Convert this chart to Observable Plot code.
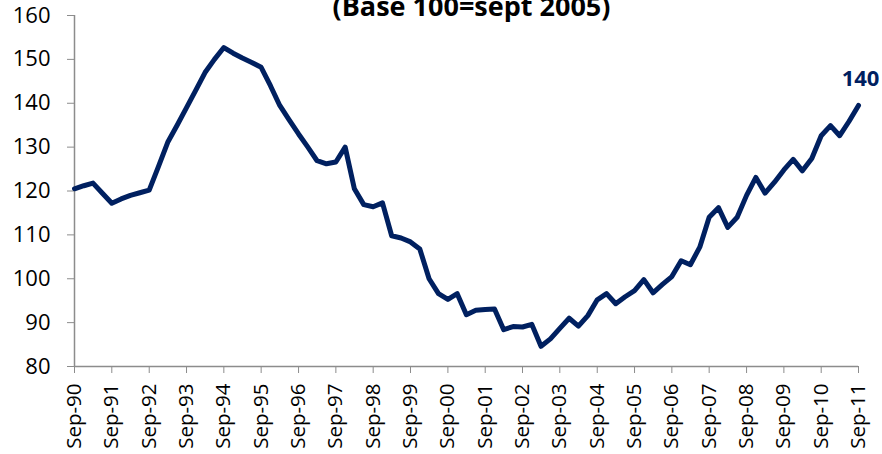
<!DOCTYPE html>
<html><head><meta charset="utf-8">
<script src="https://cdn.jsdelivr.net/npm/d3@7"></script>
<script src="https://cdn.jsdelivr.net/npm/@observablehq/plot@0.6"></script>
<style>body{margin:0;background:#fff;overflow:hidden;}</style>
</head><body><div id="chart"></div>
<script>
const title = "(Base 100=sept 2005)";
const firstYear = 1990; // series starts Sep-1990, quarterly
const values = [
  120.5, 121.2, 121.8, 119.5, 117.2, 118.2, 119.0, 119.6, 120.2, 125.6,
  131.1, 135.0, 139.0, 143.0, 147.0, 150.0, 152.7, 151.4, 150.3, 149.3,
  148.2, 144.0, 139.5, 136.2, 133.0, 130.0, 126.9, 126.2, 126.6, 130.0,
  120.5, 116.9, 116.4, 117.3, 109.8, 109.3, 108.4, 106.8, 100.0, 96.6,
  95.3, 96.6, 91.8, 92.8, 93.0, 93.1, 88.4, 89.1, 89.0, 89.6,
  84.6, 86.3, 88.7, 91.0, 89.2, 91.6, 95.2, 96.6, 94.3, 95.9,
  97.3, 99.8, 96.8, 98.7, 100.5, 104.1, 103.2, 107.2, 114.0, 116.2,
  111.7, 114.0, 119.0, 123.1, 119.5, 122.0, 124.8, 127.2, 124.6, 127.4,
  132.6, 134.9, 132.6, 135.9, 139.5
];
const tickYears = [1990,1991,1992,1993,1994,1995,1996,1997,1998,1999,2000,
                   2001,2002,2003,2004,2005,2006,2007,2008,2009,2010,2011];
const yTicks = [80, 90, 100, 110, 120, 130, 140, 150, 160];
const endLabel = "140";

const start = new Date(Date.UTC(firstYear, 8, 1));
const data = values.map((v, i) => ({date: d3.utcMonth.offset(start, 3 * i), value: v}));
const tickDates = tickYears.map(y => new Date(Date.UTC(y, 8, 1)));
const last = data[data.length - 1];
const axisGray = "#8c8c8c";
const navy = "#002060";

const chart = Plot.plot({
  width: 882, height: 454,
  marginLeft: 74, marginRight: 24, marginTop: 15, marginBottom: 88,
  style: {fontFamily: "'Open Sans', sans-serif", background: "#fff", color: "#000"},
  x: {type: "utc", domain: [data[0].date, last.date]},
  y: {domain: [80, 160]},
  marks: [
    Plot.axisY({ticks: yTicks, tickSize: 7, tickPadding: 17, stroke: axisGray, fill: "#000", fontSize: 22, label: null}),
    Plot.axisX({ticks: tickDates, tickFormat: d3.utcFormat("%b-%y"), tickRotate: -90, tickSize: 7, tickPadding: 10, stroke: axisGray, fill: "#000", fontSize: 20.5, label: null}),
    Plot.ruleX([data[0].date], {y1: 80, y2: 160, stroke: axisGray, strokeWidth: 1.5}),
    Plot.ruleY([80], {stroke: axisGray, strokeWidth: 1.5}),
    Plot.line(data, {x: "date", y: "value", stroke: navy, strokeWidth: 5, strokeLinejoin: "round", strokeLinecap: "round"}),
    Plot.text([last], {x: "date", y: "value", text: () => endLabel, dy: -19, dx: 2, lineAnchor: "bottom", fontWeight: "bold", fontSize: 22, fill: navy}),
    Plot.text([title], {frameAnchor: "top", lineAnchor: "bottom", dx: 5, fontSize: 27, fontWeight: "bold", fill: "#000"})
  ]
});
document.getElementById("chart").append(chart);
</script>
</body></html>
